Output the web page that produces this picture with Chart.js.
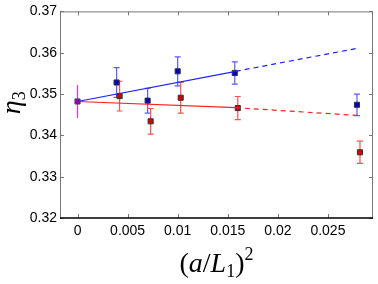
<!DOCTYPE html>
<html>
<head>
<meta charset="utf-8">
<script src="https://cdn.jsdelivr.net/npm/chart.js@4"></script>
<style>
  html, body { margin: 0; padding: 0; background: #fff; }
  #wrap { width: 378px; height: 284px; }
</style>
</head>
<body>
<div id="wrap"><canvas id="chart" width="378" height="284"></canvas></div>
<script>
// data
const blueX = [0.0039, 0.0070, 0.0100, 0.0157, 0.0279];
const blueY = [0.3528, 0.3484, 0.3555, 0.3551, 0.3474];
const blueErr = [0.0036, 0.0030, 0.0035, 0.0027, 0.0026];

const redX = [0.0042, 0.0073, 0.0103, 0.0160, 0.0282];
const redY = [0.3495, 0.3434, 0.3491, 0.3466, 0.3359];
const redErr = [0.0036, 0.0031, 0.0037, 0.0028, 0.0027];

const zeroX = [0];
const zeroY = [0.3482];
const zeroErr = [0.0040];

// fits: solid part then dashed extrapolation
const blueFitX = [0, 0.0158, 0.0278];
const blueFitY = [0.3482, 0.3555, 0.3610];
const redFitX = [0, 0.0158, 0.0281];
const redFitY = [0.3482, 0.3467, 0.3448];

const xTicks = [0, 0.005, 0.01, 0.015, 0.02, 0.025];
const yTicks = [0.32, 0.33, 0.34, 0.35, 0.36, 0.37];

const pts = (xs, ys) => xs.map((x, i) => ({ x: x, y: ys[i] }));

// error bars, drawn under the markers
const errorBars = {
  id: "errorBars",
  beforeDatasetsDraw(chart) {
    const { ctx, scales: { x, y } } = chart;
    chart.data.datasets.forEach((ds) => {
      if (!ds.err) return;
      ctx.save();
      ctx.strokeStyle = ds.errColor;
      ctx.lineWidth = 1.2;
      ds.data.forEach((p, i) => {
        const px = x.getPixelForValue(p.x);
        const top = y.getPixelForValue(p.y + ds.err[i]);
        const bot = y.getPixelForValue(p.y - ds.err[i]);
        ctx.beginPath();
        ctx.moveTo(px, top);
        ctx.lineTo(px, bot);
        if (ds.caps) {
          ctx.moveTo(px - 3, top);
          ctx.lineTo(px + 3, top);
          ctx.moveTo(px - 3, bot);
          ctx.lineTo(px + 3, bot);
        }
        ctx.stroke();
      });
      ctx.restore();
    });
  },
};

// box with inward ticks
const frame = {
  id: "frame",
  afterDraw(chart) {
    const { ctx, chartArea: a, scales: { x, y } } = chart;
    ctx.save();
    ctx.lineWidth = 1;
    ctx.strokeStyle = "#777";
    ctx.beginPath();
    ctx.moveTo(a.left + 0.5, a.bottom);
    ctx.lineTo(a.left + 0.5, a.top + 0.5);
    ctx.lineTo(a.right - 0.5, a.top + 0.5);
    ctx.lineTo(a.right - 0.5, a.bottom);
    xTicks.forEach((v) => {
      const px = Math.round(x.getPixelForValue(v)) + 0.5;
      ctx.moveTo(px, a.top);
      ctx.lineTo(px, a.top + 4);
      ctx.moveTo(px, a.bottom);
      ctx.lineTo(px, a.bottom - 4);
    });
    yTicks.forEach((v) => {
      const py = Math.round(y.getPixelForValue(v)) + 0.5;
      ctx.moveTo(a.left, py);
      ctx.lineTo(a.left + 4, py);
      ctx.moveTo(a.right, py);
      ctx.lineTo(a.right - 4, py);
    });
    ctx.stroke();
    ctx.strokeStyle = "#000";
    ctx.lineWidth = 1.5;
    ctx.beginPath();
    ctx.moveTo(a.left, a.bottom);
    ctx.lineTo(a.right, a.bottom);
    ctx.stroke();
    ctx.restore();
  },
};

// math-style axis labels: [text, italic, size, baseline shift]
const xLabelParts = [["(", false, 28, 0], ["a", true, 28, 0], ["/", false, 28, 0], ["L", true, 28, 0], ["1", false, 18, 5], [")", false, 28, 0], ["2", false, 18, -12]];
const yLabelParts = [["\u03b7", true, 28, 0], ["3", false, 18, 5]];

function drawParts(ctx, parts, cx, baseline) {
  const fontOf = (p) => (p[1] ? "italic " : "") + p[2] + "px 'Liberation Serif'";
  let total = 0;
  parts.forEach((p) => { ctx.font = fontOf(p); total += ctx.measureText(p[0]).width; });
  let xx = cx - total / 2;
  parts.forEach((p) => {
    ctx.font = fontOf(p);
    ctx.fillText(p[0], xx, baseline + p[3]);
    xx += ctx.measureText(p[0]).width;
  });
}

const axisLabels = {
  id: "axisLabels",
  afterDraw(chart) {
    const { ctx, chartArea: a } = chart;
    ctx.save();
    ctx.fillStyle = "#000";
    ctx.textBaseline = "alphabetic";
    ctx.textAlign = "left";
    drawParts(ctx, xLabelParts, (a.left + a.right) / 2, 272);
    ctx.translate(20, (a.top + a.bottom) / 2 - 12);
    ctx.rotate(-Math.PI / 2);
    drawParts(ctx, yLabelParts, 0, 0);
    ctx.restore();
  },
};

const dashAfterFirst = (c) => (c.p0DataIndex >= 1 ? [5, 4] : undefined);

new Chart(document.getElementById("chart"), {
  type: "scatter",
  data: {
    datasets: [
      {
        data: pts(blueFitX, blueFitY),
        showLine: true,
        borderColor: "#2020ff",
        borderWidth: 1.2,
        pointRadius: 0,
        segment: { borderDash: dashAfterFirst },
      },
      {
        data: pts(redFitX, redFitY),
        showLine: true,
        borderColor: "#ff2020",
        borderWidth: 1.2,
        pointRadius: 0,
        segment: { borderDash: dashAfterFirst },
      },
      {
        data: pts(blueX, blueY),
        err: blueErr,
        errColor: "#5a5aff",
        caps: true,
        pointStyle: "rect",
        pointRadius: 3.6,
        backgroundColor: "#0000c8",
        borderColor: "#333",
        borderWidth: 1,
      },
      {
        data: pts(redX, redY),
        err: redErr,
        errColor: "#ff5050",
        caps: true,
        pointStyle: "rect",
        pointRadius: 3.6,
        backgroundColor: "#d80000",
        borderColor: "#333",
        borderWidth: 1,
      },
      {
        data: pts(zeroX, zeroY),
        err: zeroErr,
        errColor: "#ee30ee",
        caps: false,
        pointStyle: "rect",
        pointRadius: 3.6,
        backgroundColor: "#9a00b0",
        borderColor: "#444",
        borderWidth: 1,
      },
    ],
  },
  options: {
    responsive: false,
    animation: false,
    layout: { padding: { top: 10, right: 5, left: 0, bottom: 0 } },
    plugins: { legend: { display: false }, tooltip: { enabled: false } },
    scales: {
      x: {
        type: "linear",
        min: -0.00175,
        max: 0.0295,
        afterBuildTicks: (s) => { s.ticks = xTicks.map((v) => ({ value: v })); },
        afterFit: (s) => { s.height = 66; },
        grid: { display: false, drawTicks: false },
        border: { display: false },
        ticks: {
          color: "#000",
          font: { family: "Liberation Sans", size: 14 },
          padding: 5,
          maxRotation: 0,
          callback: (v) => String(v),
        },
      },
      y: {
        min: 0.32,
        max: 0.37,
        afterBuildTicks: (s) => { s.ticks = yTicks.map((v) => ({ value: v })); },
        afterFit: (s) => { s.width = 60; },
        grid: { display: false, drawTicks: false },
        border: { display: false },
        ticks: {
          color: "#000",
          font: { family: "Liberation Sans", size: 14 },
          padding: 3,
          callback: (v) => v.toFixed(2),
        },
      },
    },
  },
  plugins: [errorBars, frame, axisLabels],
});
</script>
</body>
</html>
